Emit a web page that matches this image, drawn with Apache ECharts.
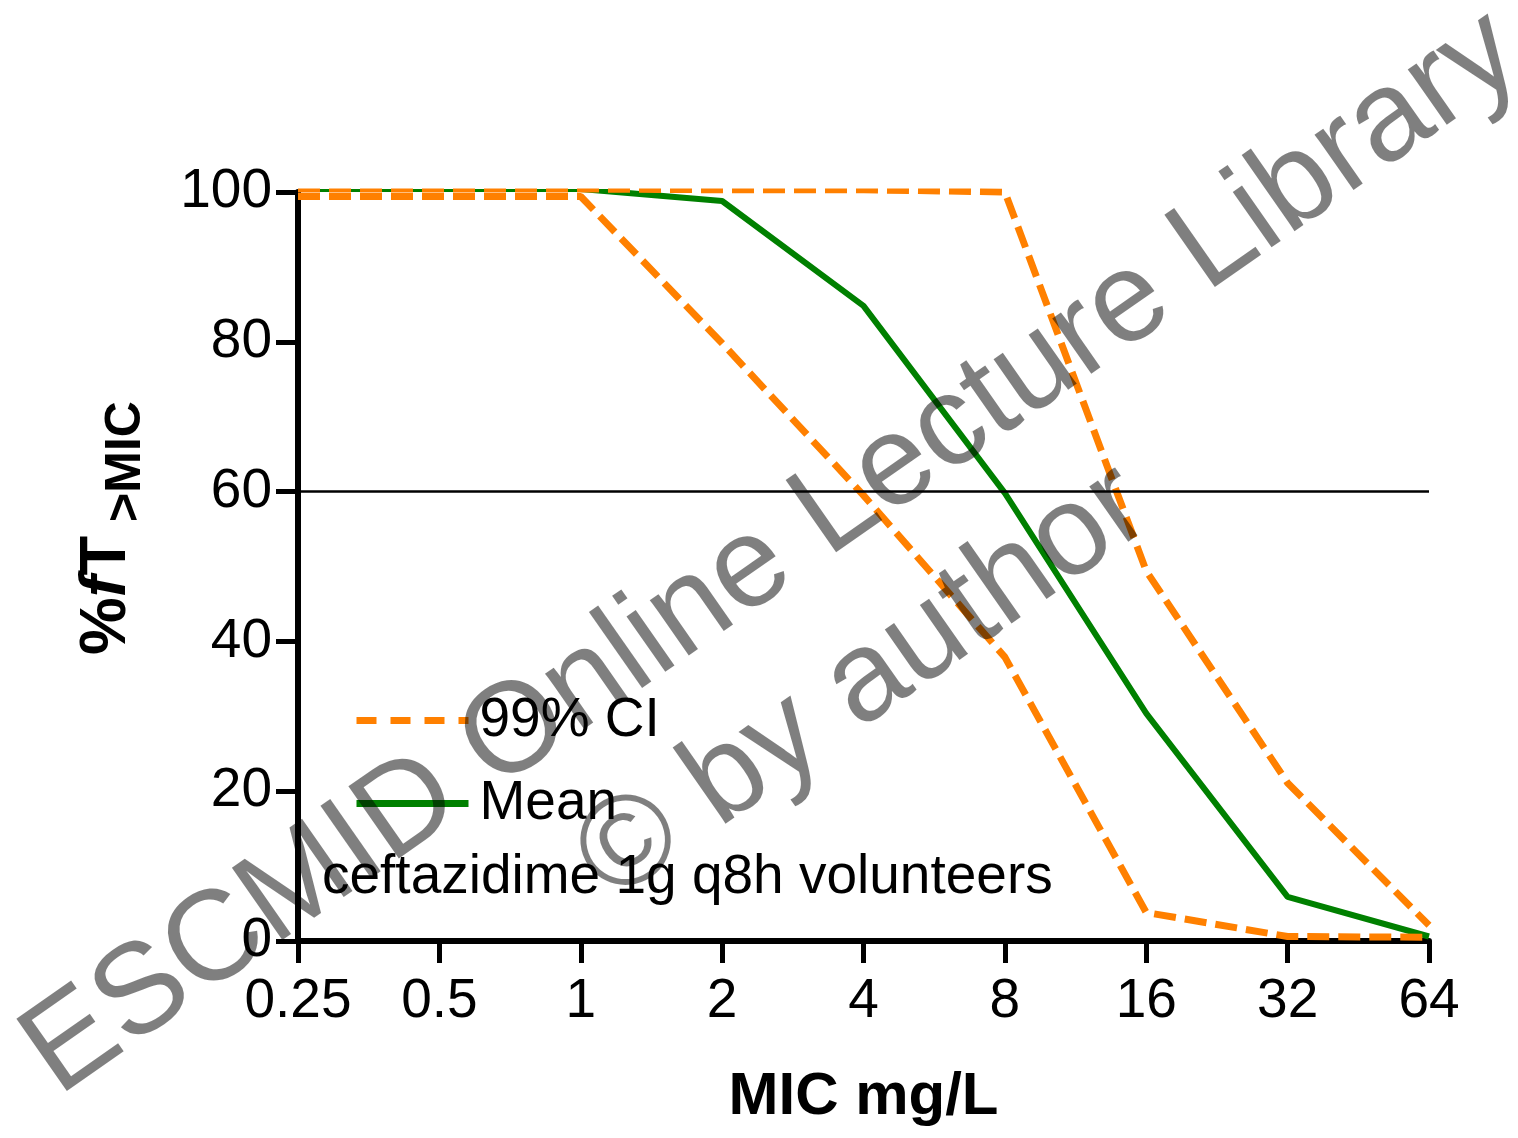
<!DOCTYPE html>
<html>
<head>
<meta charset="utf-8">
<script src="https://cdn.jsdelivr.net/npm/echarts@6/dist/echarts.min.js"></script>
<style>html,body{margin:0;padding:0;background:#fff;}#c{width:1518px;height:1138px;}</style>
</head>
<body>
<div id="c"></div>
<script>
var categories = ['0.25', '0.5', '1', '2', '4', '8', '16', '32', '64'];
var meanValues = [100.4, 100.4, 100.4, 98.8, 84.8, 59.8, 30.4, 5.9, 0.6];
var upperCI = [100.4, 100.4, 100.4, 100.3, 100.3, 100, 49.4, 21.1, 2.1];
var lowerCI = [99.4, 99.4, 99.4, 79.8, 59.5, 37.9, 3.8, 0.6, 0.5];
var yTicks = [0, 20, 40, 60, 80, 100];
var threshold = 60;

var FONT = 'Liberation Sans, Arial, Helvetica, sans-serif';
var chart = echarts.init(document.getElementById('c'), null, {renderer: 'canvas'});
var rot = 35 * Math.PI / 180;
var ORANGE = '#FF8000', GREEN = '#008000';

chart.setOption({
  backgroundColor: '#fff',
  animation: false,
  textStyle: {fontFamily: FONT},
  grid: {left: 298, right: 89, top: 192, bottom: 197, containLabel: false, outerBoundsMode: 'none'},
  legend: {
    orient: 'vertical',
    left: 348, top: 688,
    data: [
      {name: '99% CI', itemStyle: {opacity: 0}, lineStyle: {color: ORANGE, width: 7, type: [20, 14]}},
      {name: 'Mean', itemStyle: {opacity: 0}, lineStyle: {color: GREEN, width: 7, type: 'solid'}}
    ],
    itemStyle: {opacity: 0},
    itemWidth: 112, itemHeight: 50, itemGap: 28,
    textStyle: {fontSize: 55, color: '#000', fontFamily: FONT, padding: [0, 0, 0, 6]},
    selectedMode: false
  },
  xAxis: {
    type: 'category',
    data: categories,
    boundaryGap: false,
    axisLine: {lineStyle: {color: '#000', width: 6}},
    axisTick: {length: 22, lineStyle: {color: '#000', width: 5}, alignWithLabel: true},
    axisLabel: {fontSize: 55, color: '#000', margin: 33, fontFamily: FONT},
    splitLine: {show: false},
    name: 'MIC mg/L',
    nameLocation: 'middle',
    nameGap: 126,
    nameMoveOverlap: false,
    nameTextStyle: {fontSize: 60, fontWeight: 'bold', color: '#000', fontFamily: FONT}
  },
  yAxis: {
    type: 'value',
    min: yTicks[0], max: yTicks[yTicks.length - 1], interval: 20,
    axisLine: {show: true, lineStyle: {color: '#000', width: 6}},
    axisTick: {show: true, length: 22, lineStyle: {color: '#000', width: 5}},
    axisLabel: {fontSize: 55, color: '#000', margin: 26, fontFamily: FONT},
    splitLine: {show: false}
  },
  series: [
    {
      name: 'Mean', type: 'line', data: meanValues, symbol: 'none',
      lineStyle: {color: GREEN, width: 6}, itemStyle: {color: GREEN},
      z: 2,
      markLine: {
        silent: true, symbol: ['none', 'none'],
        label: {show: false},
        lineStyle: {color: '#000', width: 2.5, type: 'solid'},
        data: [{yAxis: threshold}]
      }
    },
    {
      name: '99% CI', type: 'line', data: upperCI, symbol: 'none',
      lineStyle: {color: ORANGE, width: 7, type: [22, 9]}, itemStyle: {color: ORANGE}, z: 3
    },
    {
      name: '99% CI', type: 'line', data: lowerCI, symbol: 'none',
      lineStyle: {color: ORANGE, width: 7, type: [22, 9]}, itemStyle: {color: ORANGE}, z: 3
    }
  ],
  graphic: [
    {
      type: 'text', left: 322, top: 850,
      style: {text: 'ceftazidime 1g q8h volunteers', font: '55px ' + FONT, fill: '#000'}
    },
    {
      type: 'text', x: 107, y: 655, rotation: Math.PI / 2,
      style: {
        text: '{a|%}{b|f}{a|T}{c| >MIC}',
        align: 'left', verticalAlign: 'middle',
        rich: {
          a: {fontSize: 65, fontWeight: 'bold', fill: '#000', fontFamily: FONT},
          b: {fontSize: 65, fontWeight: 'bold', fontStyle: 'italic', fill: '#000', fontFamily: FONT},
          c: {fontSize: 50, fontWeight: 'bold', fill: '#000', fontFamily: FONT, padding: [38, 0, 0, 0]}
        }
      }
    },
    {
      type: 'text', x: 38, y: 1068, rotation: rot, z: 100,
      style: {text: 'ESCMID Online Lecture Library', font: '128px ' + FONT, fill: 'rgba(0,0,0,0.5)', align: 'left', verticalAlign: 'middle'}
    },
    {
      type: 'text', x: 592, y: 874, rotation: rot, z: 100,
      style: {text: '\u00a9 by author', font: '128px ' + FONT, fill: 'rgba(0,0,0,0.5)', align: 'left', verticalAlign: 'middle'}
    }
  ]
});
</script>
</body>
</html>
